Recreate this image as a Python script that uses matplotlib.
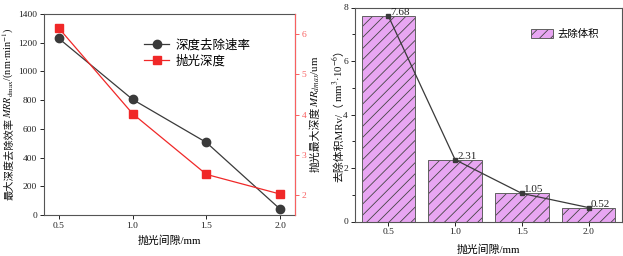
import matplotlib
matplotlib.use("Agg")
import matplotlib.pyplot as plt
import numpy as np

plt.rcParams['font.family'] = ['Liberation Serif', 'Noto Sans CJK SC', 'DejaVu Sans']
plt.rcParams['mathtext.fontset'] = 'stix'
plt.rcParams['hatch.linewidth'] = 0.6

# data
gap = [0.5, 1.0, 1.5, 2.0]
rate = [1230, 805, 505, 40]           # 深度去除速率 nm/min
depth = [6.15, 4.02, 2.51, 2.02]      # 抛光深度 um
volume = [7.68, 2.31, 1.05, 0.52]     # 去除体积
xticklabels = ['0.5', '1.0', '1.5', '2.0']

W, H = 623, 256
fig = plt.figure(figsize=(W / 100, H / 100), dpi=100)

spine_c = '#555555'
red = '#F02828'
red_light = '#F86060'
fs = 6.8
lfs = 7.8

# ---------------- left panel ----------------
ax1 = fig.add_axes([44 / W, 1 - 215 / H, (295 - 44) / W, (215 - 14) / H])
l1, = ax1.plot(gap, rate, '-o', color='#3a3a3a', lw=0.9, ms=6, label='深度去除速率')
ax1.set_xlim(0.4, 2.1)
ax1.set_ylim(0, 1400)
ax1.set_yticks(np.arange(0, 1401, 200))
ax1.set_xticks(gap)
ax1.set_xticklabels(xticklabels)
ax1.tick_params(labelsize=fs, length=3, width=0.7, colors='#222222', pad=2)
for s in ax1.spines.values():
    s.set_color(spine_c)
    s.set_linewidth(0.8)
ax1.set_xlabel('抛光间隙/mm', fontsize=lfs, labelpad=4)

ax2 = ax1.twinx()
l2, = ax2.plot(gap, depth, '-s', color=red, lw=0.9, ms=5.5, label='抛光深度')
ax2.set_ylim(1.5, 6.5)
ax2.set_yticks([2, 3, 4, 5, 6])
ax2.tick_params(axis='y', labelsize=fs, length=3, width=0.7, colors=red_light, pad=2)
ax2.spines['right'].set_color(red_light)
ax2.spines['right'].set_linewidth(0.8)
for k in ['left', 'top', 'bottom']:
    ax2.spines[k].set_visible(False)

ax1.legend(handles=[l1, l2], loc='upper left', bbox_to_anchor=(0.38, 0.9),
           frameon=False, fontsize=9, handlelength=2.0, borderaxespad=0,
           labelspacing=0.3, handletextpad=0.5)

# ---------------- right panel ----------------
ax3 = fig.add_axes([355 / W, 1 - 221.5 / H, (622 - 355) / W, (221.5 - 7.5) / H])
bars = ax3.bar(gap, volume, width=0.4, color='#E8A6F2', edgecolor='#606060',
               linewidth=0.7, hatch='///', label='去除体积')
for b in bars:
    b._hatch_color = matplotlib.colors.to_rgba('#444444')
ax3.plot(gap, volume, '-s', color='#3a3a3a', lw=0.9, ms=3.5)
for x, v in zip(gap, volume):
    ax3.annotate(f'{v:.2f}', (x, v), xytext=(2, -1), textcoords='offset pixels',
                 ha='left', va='bottom', fontsize=8, color='#222222')
ax3.set_xlim(0.25, 2.25)
ax3.set_ylim(0, 8)
ax3.set_yticks([0, 2, 4, 6, 8])
ax3.set_yticks([1, 3, 5, 7], minor=True)
ax3.set_xticks(gap)
ax3.set_xticklabels(xticklabels)
ax3.tick_params(labelsize=fs, length=3, width=0.7, colors='#222222', pad=2)
ax3.tick_params(which='minor', length=2, width=0.6)
for s in ax3.spines.values():
    s.set_color(spine_c)
    s.set_linewidth(0.8)
ax3.set_xlabel('抛光间隙/mm', fontsize=lfs, labelpad=6)
ax3.legend(loc='upper right', bbox_to_anchor=(0.93, 0.92), frameon=False, fontsize=7.5,
           handlelength=2.2, handleheight=0.9, borderaxespad=0, handletextpad=0.4)


# ---------------- rotated y labels assembled from pieces ----------------
def vlabel(x_px, yc_px, parts, size=lfs, color='#111111'):
    ts = [fig.text(0, 0, p, rotation=90, rotation_mode='anchor', ha='left',
                   va='baseline', fontsize=size, color=color) for p in parts]
    fig.canvas.draw()
    r = fig.canvas.get_renderer()
    lens = [t.get_window_extent(r).height for t in ts]
    y = (H - yc_px) - sum(lens) / 2
    for t, L in zip(ts, lens):
        t.set_position((x_px / W, y / H))
        y += L


vlabel(12, 113.5, ['最大深度去除效率',
                   '$\\mathit{MRR}_{\\mathrm{dmax}}$/(nm·min$^{-1}$)'], size=7.4)
vlabel(319, 114, ['抛光最大深度', '$\\mathit{MR}_{\\mathit{dmax}}$/um'])
vlabel(342, 113.5, ['去除体积MRv/（', 'mm$^{3}$·10$^{-6}$', '）'])

fig.savefig('out.png', dpi=100)
